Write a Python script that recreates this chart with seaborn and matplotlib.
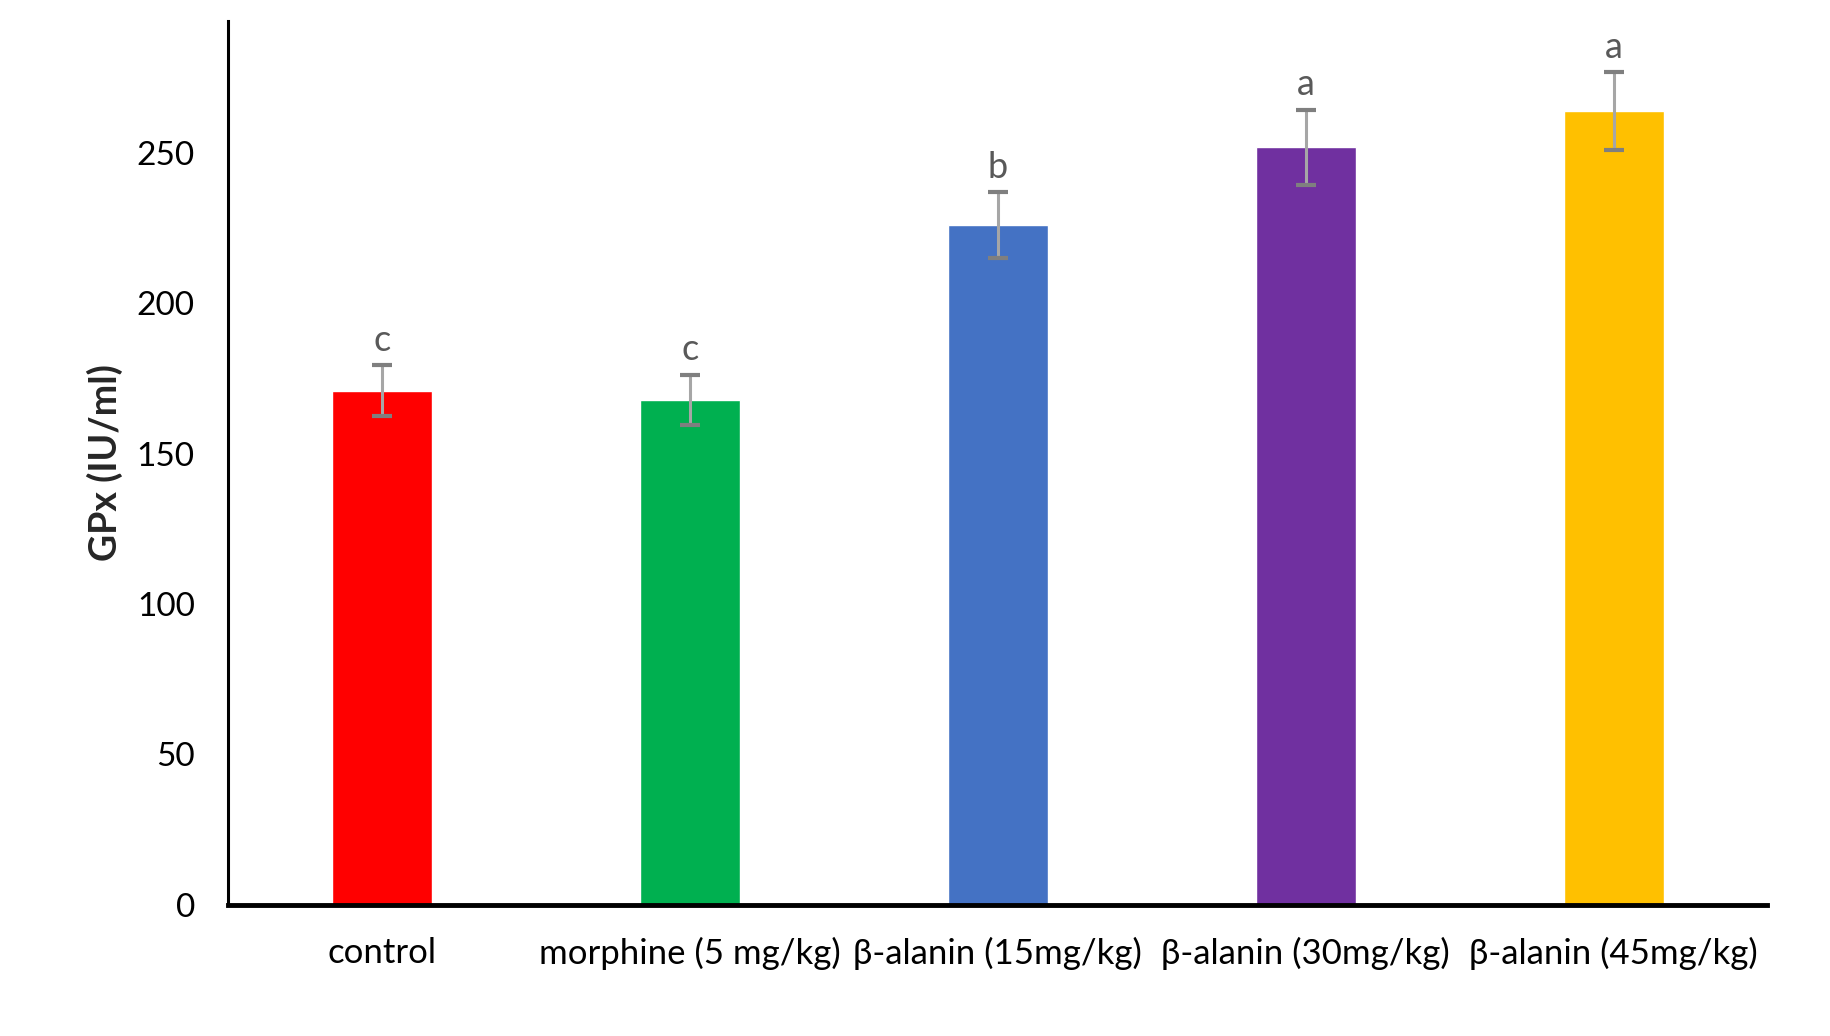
import pandas as pd
import matplotlib
matplotlib.use('Agg')
import matplotlib.pyplot as plt
import seaborn as sns

# values
groups = ['control', 'morphine (5 mg/kg)', 'β-alanin (15mg/kg)',
          'β-alanin (30mg/kg)', 'β-alanin (45mg/kg)']
gpx_mean = [171, 168, 226, 252, 264]
gpx_err = [8.5, 8.3, 11, 12.5, 13]
letters = ['c', 'c', 'b', 'a', 'a']
bar_colors = ['#FF0000', '#00B050', '#4472C4', '#7030A0', '#FFC000']

df = pd.DataFrame({'group': groups, 'GPx': gpx_mean, 'err': gpx_err})

sns.set_style('white')
plt.rcParams['font.family'] = ['Lato', 'DejaVu Sans']

fig = plt.figure(figsize=(18.31, 10.36), dpi=100)
ax = fig.add_axes([0.1246, 0.1268, 0.8407, 0.853])

sns.barplot(data=df, x='group', y='GPx', hue='group', palette=bar_colors,
            width=0.325, errorbar=None, legend=False, saturation=1, ax=ax)

# error bars: light stem, darker caps
ax.errorbar(range(len(groups)), df['GPx'], yerr=df['err'], fmt='none',
            ecolor='#A6A6A6', elinewidth=2.2, capsize=0, zorder=3)
ax.errorbar(range(len(groups)), df['GPx'], yerr=df['err'], fmt='none',
            ecolor='#7F7F7F', elinewidth=0, capsize=7, capthick=3, zorder=4)

# significance letters
for i, (m, e, lt) in enumerate(zip(gpx_mean, gpx_err, letters)):
    ax.annotate(lt, (i, m + e), xytext=(0, 6), textcoords='offset points',
                ha='center', va='bottom', fontsize=26, color='#595959')

ax.set_xlim(-0.5, len(groups) - 0.5)
ax.set_ylim(0, 294)
ax.set_yticks([0, 50, 100, 150, 200, 250])
ax.tick_params(axis='both', length=0, colors='black')
ax.tick_params(axis='x', pad=23, labelsize=25)
ax.tick_params(axis='y', pad=24, labelsize=24)
ax.set_xlabel('')
ax.set_ylabel('GPx (IU/ml)', fontsize=27, fontweight='bold', labelpad=10)

sns.despine(ax=ax)
ax.spines['left'].set_linewidth(2.2)
ax.spines['left'].set_color('black')
ax.spines['bottom'].set_linewidth(3.5)
ax.spines['bottom'].set_color('black')

fig.savefig('out.png', dpi=100, facecolor='white')
